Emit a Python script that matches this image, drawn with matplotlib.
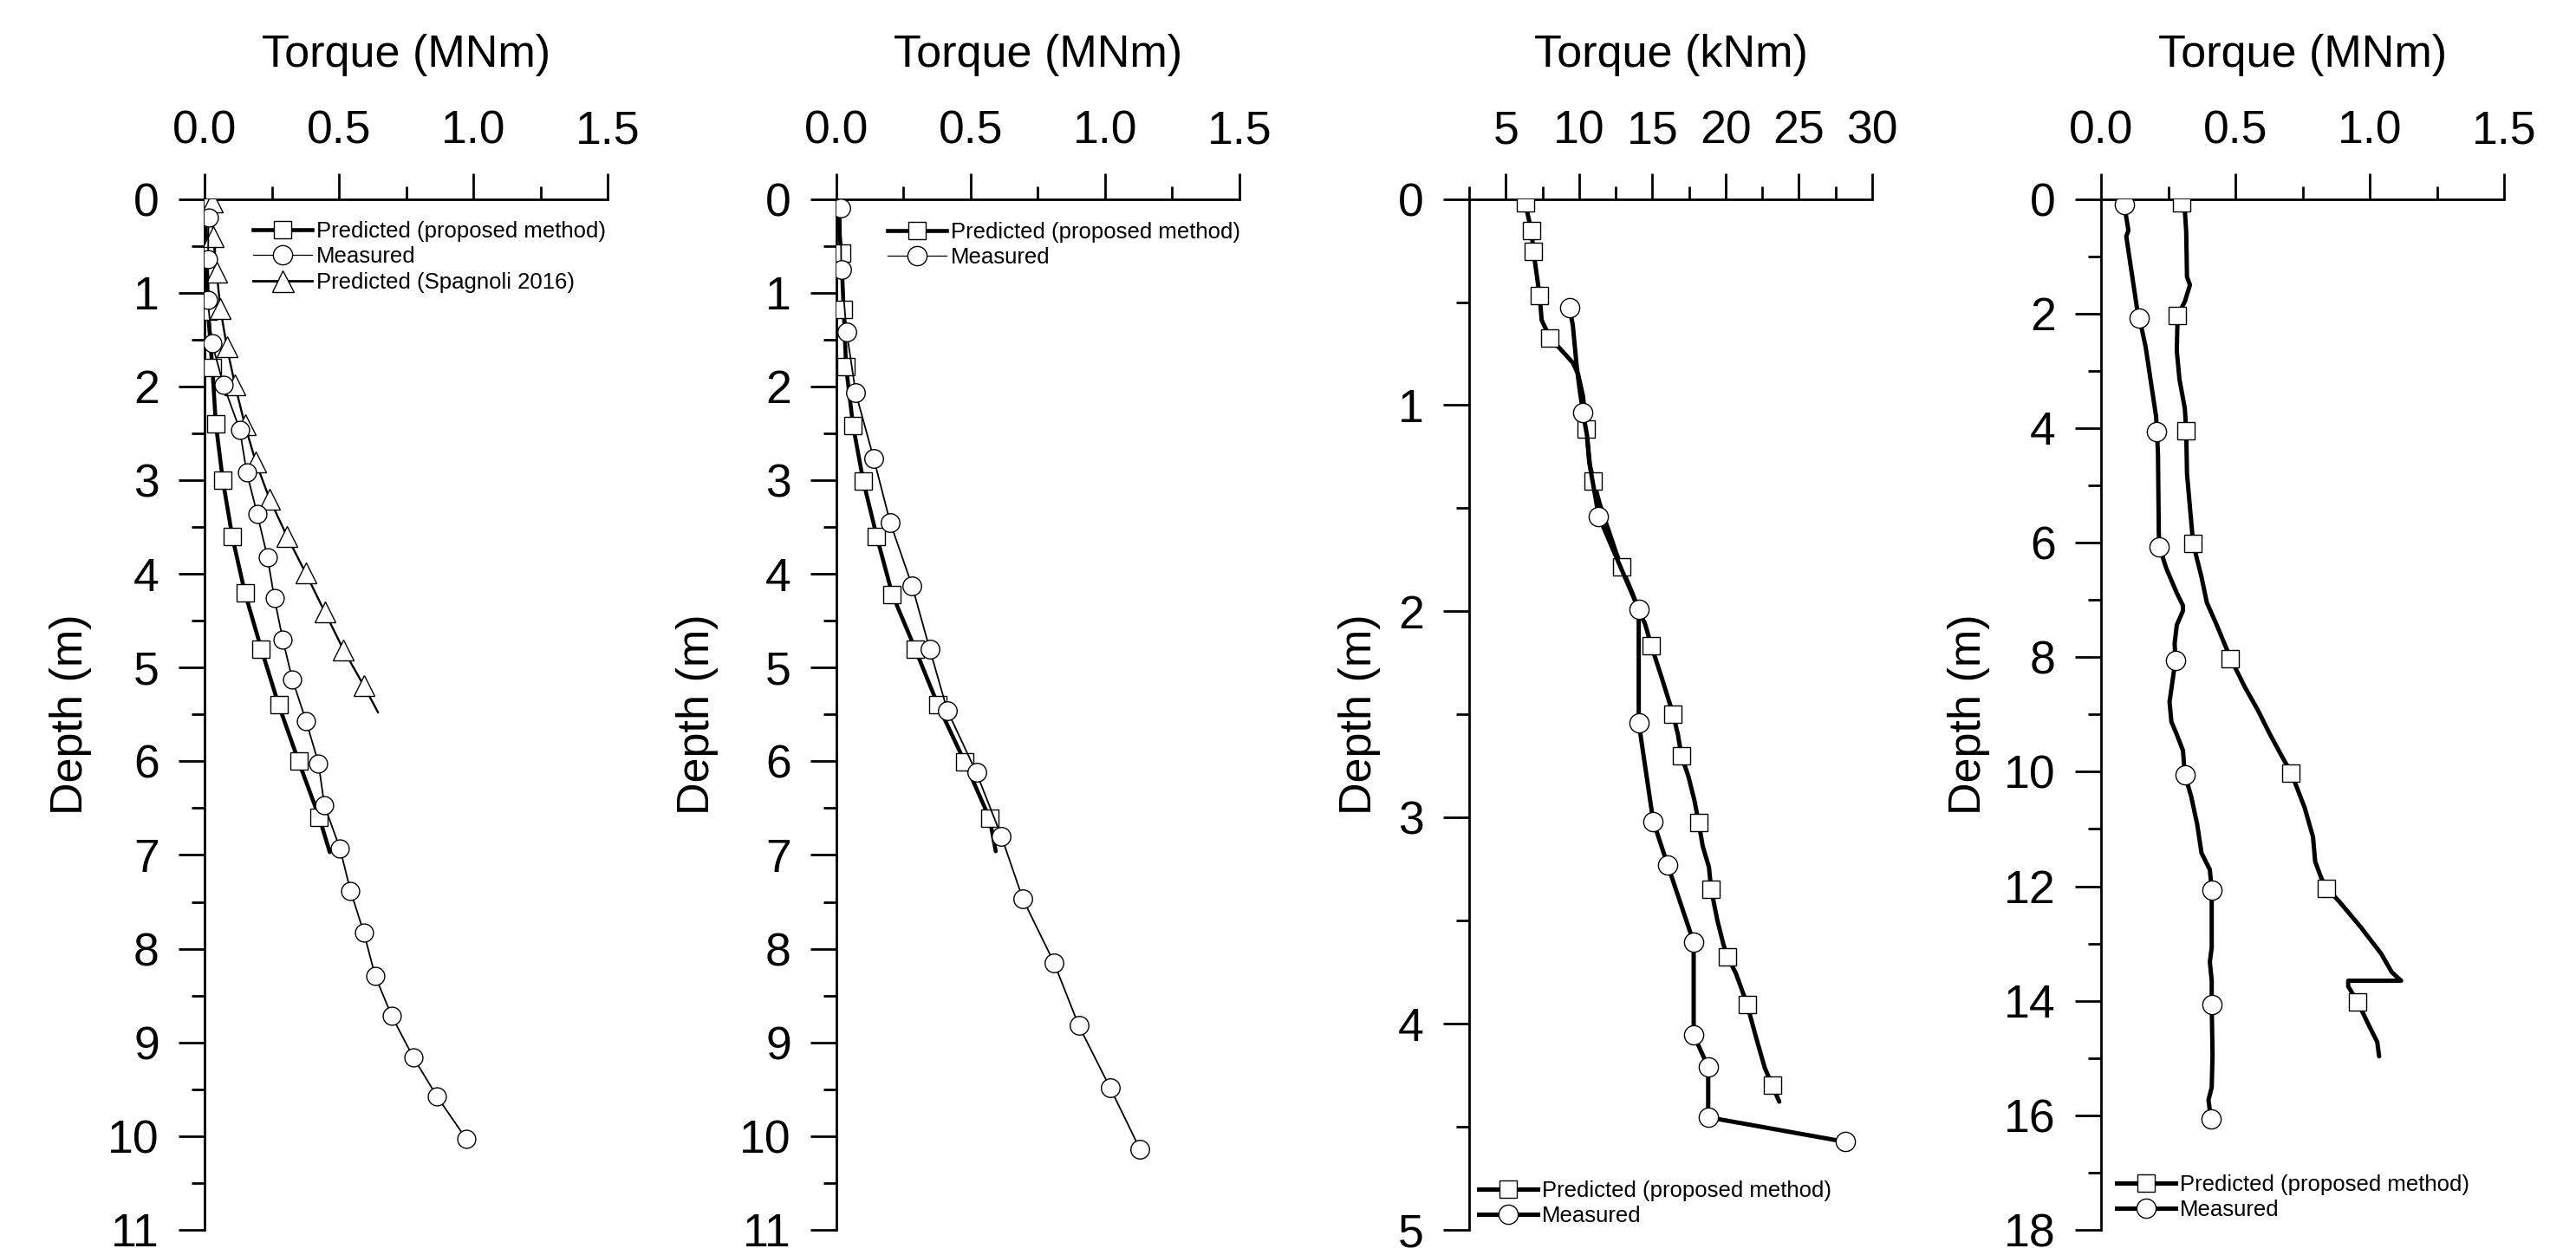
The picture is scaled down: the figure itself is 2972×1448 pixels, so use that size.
import matplotlib
matplotlib.use('Agg')
import matplotlib.pyplot as plt
from matplotlib.lines import Line2D
from matplotlib.ticker import MultipleLocator

plt.rcParams['font.family'] = ['Liberation Sans', 'DejaVu Sans']

# ---------------- data ----------------
LBL_PRED = 'Predicted (proposed method)'
LBL_MEAS = 'Measured'
LBL_SPAG = 'Predicted (Spagnoli 2016)'

# Panel 1 (MNm)
p1_pred_line_d = [0, 0.6, 1.2, 1.8, 2.4, 3.0, 3.6, 4.2, 4.8, 5.4, 6.0, 6.6, 6.97]
p1_pred_line_t = [0.0, 0.008, 0.013, 0.029, 0.042, 0.068, 0.103, 0.150, 0.211, 0.276, 0.350, 0.427, 0.466]
p1_pred_mark_d = [0, 0.6, 1.2, 1.8, 2.4, 3.0, 3.6, 4.2, 4.8, 5.4, 6.0, 6.6]
p1_pred_mark_t = [0.0, 0.008, 0.013, 0.029, 0.042, 0.068, 0.103, 0.150, 0.211, 0.276, 0.350, 0.427]

p1_meas_d = [0.2, 0.64, 1.08, 1.54, 1.98, 2.46, 2.92, 3.36, 3.82, 4.26, 4.70, 5.13, 5.57, 6.02,
             6.47, 6.93, 7.38, 7.83, 8.29, 8.72, 9.16, 9.58, 10.03]
p1_meas_t = [0.015, 0.013, 0.012, 0.028, 0.070, 0.131, 0.157, 0.196, 0.234, 0.260, 0.291, 0.327,
             0.378, 0.424, 0.446, 0.504, 0.543, 0.593, 0.635, 0.697, 0.777, 0.866, 0.974]

p1_spag_line_d = [0.03, 0.40, 0.78, 1.17, 1.58, 1.98, 2.41, 2.81, 3.2, 3.6, 3.99, 4.41, 4.81, 5.19, 5.48]
p1_spag_line_t = [0.029, 0.032, 0.045, 0.059, 0.083, 0.113, 0.150, 0.191, 0.242, 0.307, 0.376, 0.448,
                  0.517, 0.592, 0.646]
p1_spag_mark_d = p1_spag_line_d[:-1]
p1_spag_mark_t = p1_spag_line_t[:-1]

# Panel 2 (MNm)
p2_pred_line_d = [0, 0.58, 1.18, 1.79, 2.42, 3.01, 3.6, 4.22, 4.8, 5.4, 6.01, 6.61, 6.96]
p2_pred_line_t = [0.0, 0.018, 0.027, 0.036, 0.062, 0.100, 0.150, 0.208, 0.293, 0.378, 0.478, 0.570, 0.593]
p2_pred_mark_d = p2_pred_line_d[:-1]
p2_pred_mark_t = p2_pred_line_t[:-1]

p2_meas_d = [0.095, 0.75, 1.42, 2.07, 2.77, 3.45, 4.13, 4.80, 5.46, 6.12, 6.80, 7.47, 8.15, 8.82, 9.48, 10.14]
p2_meas_t = [0.016, 0.018, 0.038, 0.072, 0.139, 0.200, 0.282, 0.347, 0.413, 0.521, 0.614, 0.694,
             0.810, 0.902, 1.018, 1.130]

# Panel 3 (kNm)
p3_pred_line_d = [0.02, 0.154, 0.255, 0.47, 0.588, 0.674, 0.738, 0.794, 0.848, 0.957, 1.117, 1.276,
                  1.366, 1.476, 1.566, 1.716, 1.785, 1.914, 1.994, 2.06, 2.165, 2.32, 2.50, 2.60,
                  2.70, 2.80, 2.92, 3.024, 3.14, 3.24, 3.347, 3.497, 3.616, 3.676, 3.756, 3.905,
                  4.075, 4.214, 4.30, 4.378]
p3_pred_line_t = [6.32, 6.75, 6.89, 7.31, 7.45, 8.02, 8.86, 9.57, 9.93, 10.27, 10.50, 10.69,
                  10.98, 11.40, 11.82, 12.53, 12.89, 13.65, 14.07, 14.50, 14.92, 15.63, 16.42, 16.75,
                  16.98, 17.46, 17.88, 18.16, 18.44, 18.86, 19.01, 19.43, 19.85, 20.14, 20.70, 21.46,
                  22.11, 22.67, 23.18, 23.66]
p3_pred_mark_d = [0.02, 0.154, 0.255, 0.47, 0.674, 1.117, 1.366, 1.785, 2.165, 2.50, 2.70, 3.024,
                  3.347, 3.676, 3.905, 4.30]
p3_pred_mark_t = [6.32, 6.75, 6.89, 7.31, 8.02, 10.50, 10.98, 12.89, 14.92, 16.42, 16.98, 18.16,
                  19.01, 20.14, 21.46, 23.18]

p3_meas_line_d = [0.528, 0.61, 0.82, 0.93, 1.037, 1.15, 1.30, 1.40, 1.539, 1.99, 2.54, 3.018, 3.231,
                  3.606, 4.055, 4.21, 4.454, 4.573]
p3_meas_line_t = [9.34, 9.57, 9.85, 10.05, 10.27, 10.55, 10.75, 11.00, 11.34, 14.07, 14.07, 15.06,
                  16.05, 17.82, 17.82, 18.81, 18.81, 28.17]
p3_meas_mark_d = [0.528, 1.037, 1.539, 1.99, 2.54, 3.018, 3.231, 3.606, 4.055, 4.21, 4.454, 4.573]
p3_meas_mark_t = [9.34, 10.27, 11.34, 14.07, 14.07, 15.06, 16.05, 17.82, 17.82, 18.81, 18.81, 28.17]

# Panel 4 (MNm)
p4_pred_line_d = [0.07, 0.2, 0.57, 1.36, 1.5, 1.79, 2.04, 2.65, 3.15, 3.66, 4.05, 4.8, 6.02, 6.6,
                  7.05, 7.41, 8.02, 8.52, 8.91, 9.34, 9.74, 10.02, 10.63, 11.14, 11.57, 11.86,
                  12.03, 12.28, 12.71, 13.18, 13.5, 13.65, 13.65, 13.75, 14.02, 14.43, 14.72, 14.97]
p4_pred_line_t = [0.300, 0.312, 0.317, 0.320, 0.331, 0.312, 0.285, 0.282, 0.292, 0.312, 0.317,
                  0.320, 0.343, 0.374, 0.394, 0.428, 0.482, 0.535, 0.582, 0.628, 0.674, 0.708,
                  0.758, 0.789, 0.797, 0.820, 0.840, 0.889, 0.966, 1.043, 1.082, 1.117, 0.920,
                  0.920, 0.955, 0.997, 1.028, 1.035]
p4_pred_mark_d = [0.07, 2.04, 4.05, 6.02, 8.02, 10.02, 12.03, 14.02]
p4_pred_mark_t = [0.300, 0.285, 0.317, 0.343, 0.482, 0.708, 0.840, 0.955]

p4_meas_line_d = [0.09, 0.55, 0.65, 1.22, 1.94, 2.08, 2.58, 3.3, 3.8, 4.06, 4.44, 5.81, 6.07, 6.45,
                  6.88, 7.1, 7.19, 7.44, 7.76, 8.05, 8.42, 8.78, 9.13, 9.35, 9.63, 10.06, 10.42,
                  10.92, 11.42, 11.71, 12.07, 13.07, 13.32, 13.65, 14.06, 14.94, 15.51, 15.73, 16.07]
p4_meas_line_t = [0.086, 0.102, 0.094, 0.112, 0.135, 0.143, 0.166, 0.189, 0.205, 0.208, 0.212,
                  0.215, 0.217, 0.243, 0.282, 0.305, 0.305, 0.282, 0.274, 0.277, 0.266, 0.255,
                  0.262, 0.282, 0.305, 0.312, 0.335, 0.358, 0.374, 0.405, 0.412, 0.412, 0.405,
                  0.412, 0.412, 0.415, 0.412, 0.400, 0.409]
p4_meas_mark_d = [0.09, 2.08, 4.06, 6.07, 8.05, 10.06, 12.07, 14.06, 16.07]
p4_meas_mark_t = [0.086, 0.143, 0.208, 0.217, 0.277, 0.312, 0.412, 0.412, 0.409]

# ---------------- figure ----------------
W, H = 2972, 1448
fig = plt.figure(figsize=(W / 100, H / 100), dpi=100)

AX_TOP = 229.6
AX_BOT = 1419.0
AX_W = 465.0
SPW = 2.0


def make_ax(left_px):
    return fig.add_axes([left_px / W, 1 - AX_BOT / H, AX_W / W, (AX_BOT - AX_TOP) / H])


def style(ax, xlim, xmaj, xmin, ylim, ymaj, ymin, xlabel, ylab_x):
    ax.set_xlim(*xlim)
    ax.set_ylim(ylim[1], ylim[0])
    ax.xaxis.set_major_locator(MultipleLocator(xmaj))
    ax.xaxis.set_minor_locator(MultipleLocator(xmin))
    ax.yaxis.set_major_locator(MultipleLocator(ymaj))
    ax.yaxis.set_minor_locator(MultipleLocator(ymin))
    ax.tick_params(axis='x', which='both', top=True, bottom=False, labeltop=True, labelbottom=False)
    ax.tick_params(axis='y', which='both', left=True, right=False)
    for s in ['right', 'bottom']:
        ax.spines[s].set_visible(False)
    for s in ['left', 'top']:
        ax.spines[s].set_linewidth(SPW)
    ax.tick_params(which='major', direction='out', length=21.5, width=SPW, labelsize=38.5)
    ax.tick_params(which='minor', direction='out', length=10.5, width=SPW)
    ax.tick_params(axis='x', which='major', pad=17)
    ax.tick_params(axis='y', which='major', pad=16)
    ax.xaxis.set_label_position('top')
    ax.set_xlabel(xlabel, fontsize=37.5, va='center')
    ax.xaxis.set_label_coords(0.5, 1 + (AX_TOP - 64) / (AX_BOT - AX_TOP))
    ax.set_ylabel('Depth (m)', fontsize=37.5, va='center')
    ax.yaxis.set_label_coords(ylab_x, 0.5)


MEW = 1.0


def draw(ax, ld, lt, md, mt, lw, marker, ms, z):
    ax.plot(lt, ld, color='black', lw=lw, solid_joinstyle='round', solid_capstyle='round', zorder=z)
    ax.plot(mt, md, ls='none', marker=marker, ms=ms, mfc='white', mec='black', mew=MEW, zorder=z + 0.5)


def legend(ax, entries, x_px, top_px):
    handles = [Line2D([], [], color='black', lw=lw, marker=m, ms=ms, mfc='white', mec='black', mew=MEW)
               for (lw, m, ms) in entries[1]]
    ax.legend(handles, entries[0], loc='upper left', bbox_to_anchor=(x_px / W, 1 - top_px / H),
              bbox_transform=fig.transFigure, frameon=False, fontsize=18.5, borderpad=0,
              borderaxespad=0, handlelength=2.65, handletextpad=0.2, labelspacing=0.21)


THICK = 3.3
THICK34 = 3.6

# Panel 1
ax1 = make_ax(236)
style(ax1, (0, 1.5), 0.5, 0.25, (0, 11), 1, 0.5, 'Torque (MNm)', -0.333)
draw(ax1, p1_pred_line_d, p1_pred_line_t, p1_pred_mark_d, p1_pred_mark_t, THICK, 's', 15, 3)
draw(ax1, p1_spag_line_d, p1_spag_line_t, p1_spag_mark_d, p1_spag_mark_t, 1.7, '^', 17.5, 4)
draw(ax1, p1_meas_d, p1_meas_t, p1_meas_d, p1_meas_t, 1.3, 'o', 15, 5)
legend(ax1, ([LBL_PRED, LBL_MEAS, LBL_SPAG],
             [(THICK, 's', 14.5), (0.9, 'o', 16), (2.0, '^', 18)]), 292, 255)

# Panel 2
ax2 = make_ax(965)
style(ax2, (0, 1.5), 0.5, 0.25, (0, 11), 1, 0.5, 'Torque (MNm)', -0.346)
draw(ax2, p2_pred_line_d, p2_pred_line_t, p2_pred_mark_d, p2_pred_mark_t, THICK, 's', 15, 3)
draw(ax2, p2_meas_d, p2_meas_t, p2_meas_d, p2_meas_t, 1.3, 'o', 15.5, 5)
legend(ax2, ([LBL_PRED, LBL_MEAS], [(THICK, 's', 14.5), (0.9, 'o', 16)]), 1024, 256)

# Panel 3
ax3 = make_ax(1695)
style(ax3, (2.5, 30), 5, 2.5, (0, 5), 1, 0.5, 'Torque (kNm)', -0.271)
draw(ax3, p3_pred_line_d, p3_pred_line_t, p3_pred_mark_d, p3_pred_mark_t, THICK34, 's', 15, 3)
draw(ax3, p3_meas_line_d, p3_meas_line_t, p3_meas_mark_d, p3_meas_mark_t, THICK34, 'o', 16, 5)
legend(ax3, ([LBL_PRED, LBL_MEAS], [(THICK34, 's', 14.5), (THICK34, 'o', 16)]), 1706, 1362)

# Panel 4
ax4 = make_ax(2424)
style(ax4, (0, 1.5), 0.5, 0.25, (0, 18), 2, 1, 'Torque (MNm)', -0.327)
draw(ax4, p4_pred_line_d, p4_pred_line_t, p4_pred_mark_d, p4_pred_mark_t, THICK34, 's', 15, 3)
draw(ax4, p4_meas_line_d, p4_meas_line_t, p4_meas_mark_d, p4_meas_mark_t, THICK34, 'o', 16, 5)
legend(ax4, ([LBL_PRED, LBL_MEAS], [(THICK34, 's', 14.5), (THICK34, 'o', 16)]), 2442, 1355)

fig.savefig('out.png', dpi=100, facecolor='white')
